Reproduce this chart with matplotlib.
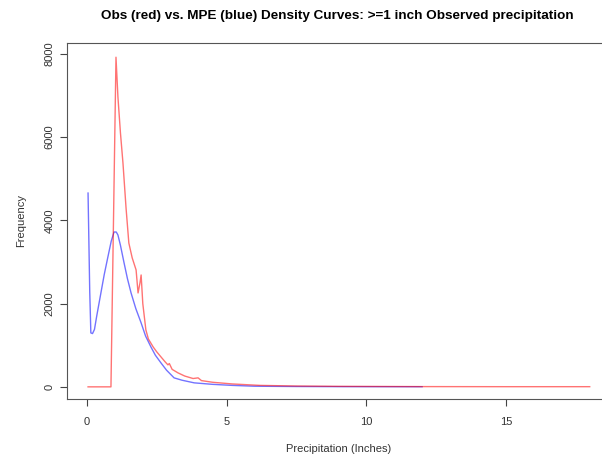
import matplotlib
matplotlib.use("Agg")
import matplotlib.pyplot as plt

# curvas (polegadas, frequencia)
obs_x = [0.04, 0.3, 0.6, 0.86, 1.04, 1.11, 1.2, 1.29, 1.4, 1.5, 1.62, 1.76, 1.83, 1.9, 1.94, 2.0,
         2.11, 2.2, 2.37, 2.5, 2.65, 2.8, 2.9, 2.95, 3.05, 3.26, 3.5, 3.8, 3.98, 4.1, 4.5,
         5.2, 6.2, 7.5, 9.0, 12.0, 15.0, 18.0]
obs_y = [0, 0, 0, 0, 7920, 6960, 6100, 5376, 4300, 3456, 3100, 2808, 2256, 2500, 2688, 2000,
         1368, 1150, 960, 840, 720, 600, 528, 560, 420, 336, 260, 200, 216, 150, 110,
         70, 35, 20, 12, 6, 4, 4]

mpe_x = [0.04, 0.1, 0.14, 0.2, 0.27, 0.35, 0.5, 0.62, 0.75, 0.87, 0.97, 1.05, 1.11, 1.2, 1.33, 1.45,
         1.58, 1.75, 1.94, 2.1, 2.29, 2.45, 2.65, 2.85, 3.12, 3.4, 3.84, 4.5, 5.2, 6.0, 7.5,
         9.0, 12.0]
mpe_y = [4656, 2300, 1296, 1280, 1380, 1700, 2256, 2700, 3120, 3500, 3720, 3720, 3648, 3400, 2976, 2600,
         2256, 1880, 1536, 1220, 960, 760, 576, 400, 216, 160, 96, 60, 35, 15, 8,
         5, 3]

x_ticks = [0, 5, 10, 15]
y_ticks = [0, 2000, 4000, 6000, 8000]

plt.rcParams['font.family'] = ['Liberation Sans', 'DejaVu Sans']

fig = plt.figure(figsize=(6.02, 4.58), dpi=100)
ax = fig.add_axes([0.111, 0.129, 0.902, 0.777])

ax.plot(mpe_x, mpe_y, color=(0.0, 0.0, 1.0, 0.55), linewidth=1.0)
ax.plot(obs_x, obs_y, color=(1.0, 0.0, 0.0, 0.55), linewidth=1.0)

ax.set_xlim(-0.72, 18.72)
ax.set_ylim(-290, 8260)
ax.set_xticks(x_ticks)
ax.set_yticks(y_ticks)
ax.set_yticklabels([str(v) for v in y_ticks], rotation=90, va='center')
ax.tick_params(axis='x', pad=8)
ax.tick_params(axis='y', pad=4)
ax.tick_params(direction='out', length=5, width=0.8, colors='#444444', labelsize=8,
               labelcolor='#333333')

for lado in ax.spines.values():
    lado.set_color('#555555')
    lado.set_linewidth(0.8)

ax.set_xlabel('Precipitation (Inches)', fontsize=8, color='#333333', labelpad=12)
ax.set_ylabel('Frequency', fontsize=8, color='#333333', labelpad=13)
fig.text(0.56, 0.965, 'Obs (red) vs. MPE (blue) Density Curves: >=1 inch Observed precipitation',
         ha='center', va='center', fontsize=9.7, fontweight='bold')

fig.savefig('out.png', dpi=100)
